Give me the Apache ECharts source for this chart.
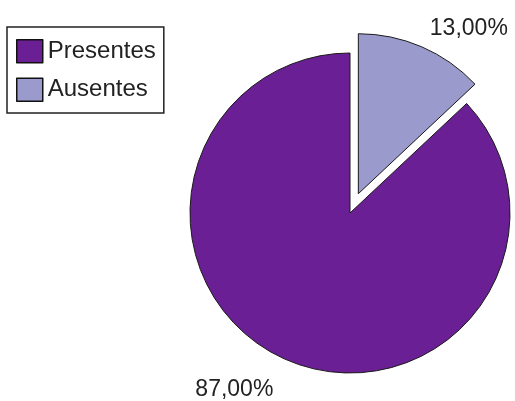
<!DOCTYPE html>
<html>
<head>
<meta charset="utf-8">
<script src="https://cdn.jsdelivr.net/npm/echarts@6/dist/echarts.min.js"></script>
<style>html,body{margin:0;padding:0;background:#fff}#c{width:515px;height:401px}</style>
</head>
<body>
<div id="c"></div>
<script>
const categories = ['Ausentes', 'Presentes'];
const values = [13, 87];
const legendOrder = ['Presentes', 'Ausentes'];
const colors = { Presentes: '#6a1f94', Ausentes: '#9a9acc' };
const labelLen = { Presentes: 33, Ausentes: 20 };

const chart = echarts.init(document.getElementById('c'));
const fontFamily = '"Liberation Sans", Arial, sans-serif';
chart.setOption({
  animation: false,
  backgroundColor: '#ffffff',
  legend: {
    data: legendOrder,
    orient: 'vertical',
    left: 7,
    top: 27,
    padding: [12, 8, 11, 9],
    itemWidth: 26,
    itemHeight: 23,
    itemGap: 14,
    icon: 'rect',
    selectedMode: false,
    borderColor: '#222',
    borderWidth: 1.5,
    itemStyle: { borderColor: '#111', borderWidth: 1.5 },
    textStyle: { fontFamily, fontSize: 24, color: '#222', lineHeight: 24 }
  },
  series: [{
    type: 'pie',
    center: [350, 213],
    radius: 160,
    startAngle: 90,
    clockwise: true,
    selectedMode: 'single',
    selectedOffset: 21,
    avoidLabelOverlap: false,
    emphasis: { disabled: true },
    itemStyle: { borderColor: '#1a1a1a', borderWidth: 1 },
    label: {
      show: true,
      position: 'outside',
      distanceToLabelLine: 0,
      fontFamily,
      fontSize: 23,
      color: '#222',
      formatter: p => p.value.toFixed(2).replace('.', ',') + '%'
    },
    labelLine: { show: false, length2: 0 },
    data: categories.map((c, i) => ({
      name: c,
      value: values[i],
      selected: c === 'Ausentes',
      itemStyle: { color: colors[c] },
      labelLine: { show: false, length: labelLen[c], length2: 0 }
    }))
  }]
});
</script>
</body>
</html>
